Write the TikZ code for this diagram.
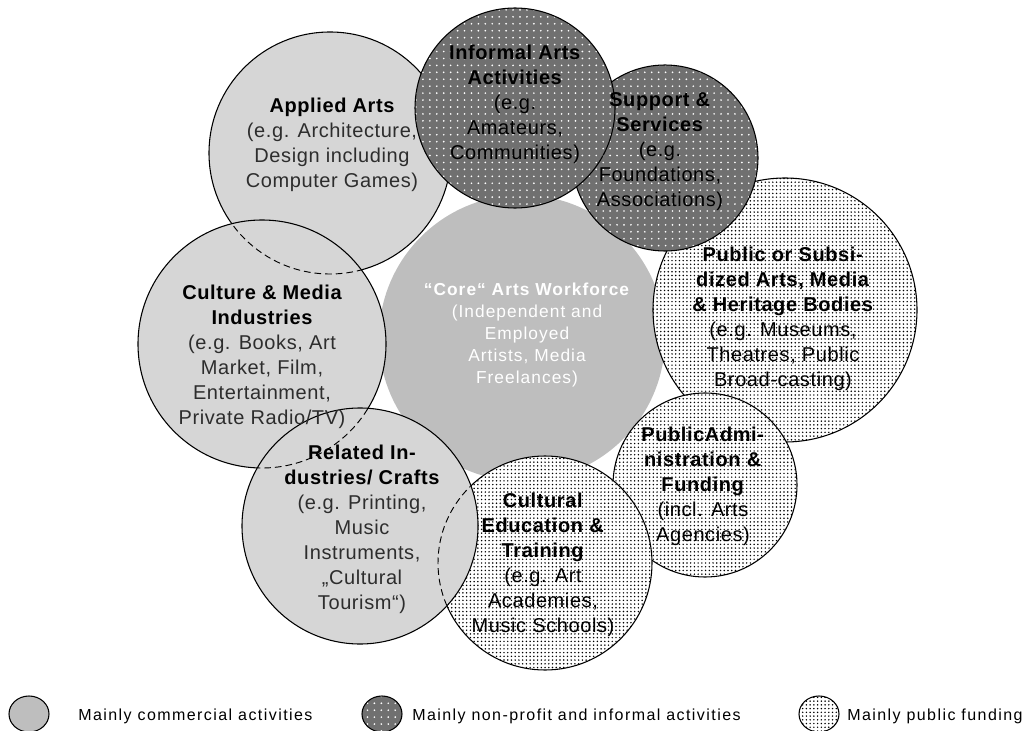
\documentclass[tikz,border=0pt]{standalone}
\usepackage{fontspec}
\setmainfont{Liberation Sans}
\newfontfamily\legendfont[LetterSpace=9]{Liberation Sans}
\newfontfamily\corefont[LetterSpace=6]{Liberation Sans}
\newfontfamily\mainfont[LetterSpace=3]{Liberation Sans}
\usetikzlibrary{patterns,patterns.meta}
\definecolor{commfill}{RGB}{214,214,214}
\definecolor{corefill}{RGB}{190,190,190}
\definecolor{darkbg}{RGB}{112,112,112}
\definecolor{subtext}{RGB}{45,45,45}
\tikzdeclarepattern{
  name=whitedots, type=uncolored,
  bounding box={(-2.6pt,-2.6pt) and (2.6pt,2.6pt)},
  tile size={(5.2pt,5.2pt)},
  code={\fill (0pt,0pt) circle (0.7pt);}
}
\tikzdeclarepattern{
  name=blackdots, type=uncolored,
  bounding box={(-1.4pt,-1.4pt) and (1.4pt,1.4pt)},
  tile size={(2.8pt,2.8pt)},
  code={\fill (0pt,0pt) circle (0.62pt);}
}
\tikzset{
  commercial/.style={fill=commfill},
  nonprofit/.style={preaction={fill=darkbg}, pattern=whitedots, pattern color=white},
  publicf/.style={preaction={fill=white}, pattern=blackdots, pattern color=black},
  ring/.style={circle, inner sep=0pt, draw=black, line width=0.8pt},
  hiddenarc/.style={draw=black, line width=0.7pt, dash pattern=on 5pt off 3pt},
  label/.style={align=center, inner sep=0pt, font=\mainfont\fontsize{15}{18.75}\selectfont},
  legendtext/.style={anchor=west, inner sep=0pt, font=\legendfont\fontsize{12}{14}\selectfont},
  legendmark/.style={ellipse, inner sep=0pt, minimum width=30pt, minimum height=27pt, draw=black, line width=0.8pt}
}
\usetikzlibrary{shapes.geometric}
\begin{document}
\begin{tikzpicture}[x=0.75pt,y=-0.75pt]
\useasboundingbox (0,0) rectangle (1032,731);
% core
\node[circle, inner sep=0pt, minimum size=214.5pt, fill=corefill] (core) at (522,338) {};
% circles in stacking order
\node[ring, publicf, minimum size=198pt] (pubsub) at (785,310) {};
\node[ring, nonprofit, minimum size=139.5pt] (support) at (665,158) {};
\node[ring, commercial, minimum size=181.5pt] (applied) at (330,153) {};
\node[ring, nonprofit, minimum size=150pt] (informal) at (515,108) {};
\node[ring, commercial, minimum size=186pt] (culture) at (262,344) {};
\node[ring, publicf, minimum size=138pt] (pubadmin) at (705,485) {};
\node[ring, publicf, minimum size=160.5pt] (culted) at (545,563) {};
\node[ring, commercial, minimum size=177pt] (related) at (360,526) {};
% hidden arcs
\begin{scope}
\clip (culture.center) circle[radius=92.6pt];
\draw[hiddenarc] (applied.center) circle[radius=90.75pt];
\end{scope}
\begin{scope}
\clip (related.center) circle[radius=88.1pt];
\draw[hiddenarc] (culture.center) circle[radius=93pt];
\draw[hiddenarc] (culted.center) circle[radius=80.25pt];
\end{scope}
% texts
\node[label, text=subtext] (appliedT) at (332,145) {\textbf{\color{black}Applied Arts}\\(e.g. Architecture,\\Design including\\Computer Games)};
\node[label] (informalT) at (515,104) {\textbf{Informal Arts}\\\textbf{Activities}\\(e.g.\\Amateurs,\\Communities)};
\node[label] (supportT) at (660,152) {\textbf{Support \&}\\\textbf{Services}\\(e.g.\\Foundations,\\Associations)};
\node[label] (pubsubT) at (783,319) {\textbf{Public or Subsi-}\\\textbf{dized Arts, Media}\\\textbf{\& Heritage Bodies}\\(e.g. Museums,\\Theatres, Public\\Broad-casting)};
\node[align=center, inner sep=0pt, text=white, font=\corefont\fontsize{13}{16.5}\selectfont] (coreT) at (527,335) {\textbf{“Core“ Arts Workforce}\\(Independent and\\Employed\\Artists, Media\\Freelances)};
\node[label, text=subtext] (cultureT) at (262,357) {\textbf{\color{black}Culture \& Media}\\\textbf{\color{black}Industries}\\(e.g. Books, Art\\Market, Film,\\Entertainment,\\Private Radio/TV)};
\node[label, text=subtext] (relatedT) at (362,529) {\textbf{\color{black}Related In-}\\\textbf{\color{black}dustries/ Crafts}\\(e.g. Printing,\\Music\\Instruments,\\„Cultural\\Tourism“)};
\node[label] (cultedT) at (543,565) {\textbf{Cultural}\\\textbf{Education \&}\\\textbf{Training}\\(e.g. Art\\Academies,\\Music Schools)};
\node[label] (pubadminT) at (703,486) {\textbf{PublicAdmi-}\\\textbf{nistration \&}\\\textbf{Funding}\\(incl. Arts\\Agencies)};
% legend
\node[legendmark, fill=corefill] (mark1) at (29,714) {};
\node[legendtext] (leg1) at (78,716) {Mainly commercial activities};
\node[legendmark, nonprofit] (mark2) at (382,714) {};
\node[legendtext] (leg2) at (412,716) {Mainly non-profit and informal activities};
\node[legendmark, publicf] (mark3) at (819,714) {};
\node[legendtext] (leg3) at (847,716) {Mainly public funding};
\end{tikzpicture}
\end{document}
